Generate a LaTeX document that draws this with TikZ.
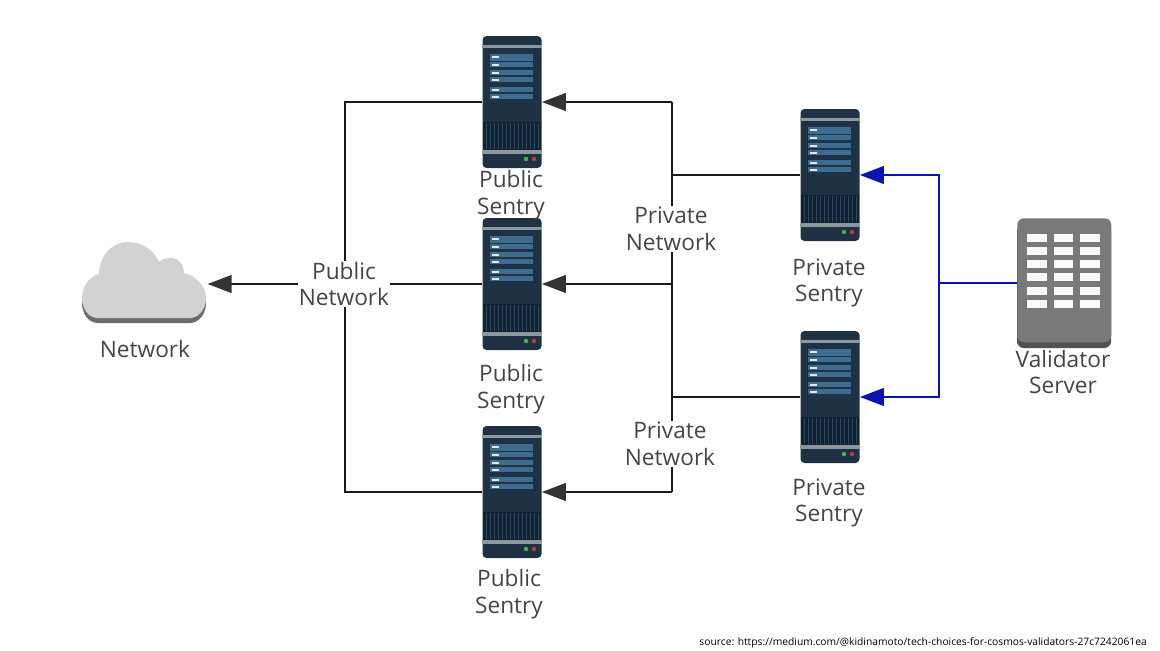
\documentclass[tikz,border=0pt]{standalone}
\usepackage{fontspec}
\setmainfont{Open Sans}
\usepackage{xcolor}
\usetikzlibrary{arrows.meta, positioning, calc}
\definecolor{rackbody}{HTML}{1F3243}
\definecolor{rackband}{HTML}{8C979E}
\definecolor{rackrow}{HTML}{3E6C90}
\definecolor{rackvent}{HTML}{14212C}
\definecolor{linkblue}{HTML}{0A14B4}
\definecolor{tipgray}{HTML}{333333}
\definecolor{labelgray}{HTML}{454545}

\begin{document}
\begin{tikzpicture}[
  x=0.75pt, y=-0.75pt,
  rackbox/.style={draw=none, fill=rackbody, rounded corners=3pt, minimum width=44.25pt, minimum height=99pt, inner sep=0pt},
  serverbox/.style={fill=gray!95!black, rounded corners=5pt, minimum width=70.5pt, minimum height=93pt, inner sep=0pt, anchor=north west},
  hostlabel/.style={align=center, text=labelgray, font=\fontsize{17}{20}\selectfont},
  netlabel/.style={hostlabel, fill=white, inner sep=1pt},
  publink/.style={line width=2.2pt, black!90},
  publinkarrow/.style={publink, -{Triangle[length=18pt, width=13pt, color=tipgray]}},
  vallink/.style={line width=2.2pt, linkblue},
  vallinkarrow/.style={vallink, -{Triangle[length=18pt, width=13pt]}},
  rackfront/.pic={
    \fill[rackband] (-30,-57) rectangle (30,-54);
    \fill[rackband] (-30,48) rectangle (30,52);
    \foreach \a/\b in {-48/-41, -40/-35, -32/-27, -25/-20, -15/-10, -8/-3} {
      \fill[rackrow] (-22,\a) rectangle (21,\b);
      \fill[white!85!rackrow] (-20,\a+1.5) rectangle (-13,\a+4);
    }
    \fill[rackvent] (-29,20) rectangle (29,48);
    \foreach \x in {-26,-22,...,26} {
      \draw[rackrow!70!black, line width=0.6pt] (\x,21) -- (\x,47);
    }
    \fill[green!45!gray] (14,57) circle (2.2);
    \fill[red!55!gray] (22,57) circle (2.2);
  },
]
  \useasboundingbox (0,0) rectangle (1160,650);

  % racks
  \foreach \n/\x/\y in {pub1/512/102, pub2/512/284, pub3/512/492, priv1/830/175, priv2/830/397} {
    \node[rackbox] (\n) at (\x,\y) {};
    \pic at (\n) {rackfront};
  }

  % validator
  \fill[black!68, rounded corners=5pt] (1017,225) rectangle (1111,348);
  \node[serverbox] (val) at (1017,218) {};
  \foreach \x/\w in {1027/1047, 1054/1073, 1080/1100} {
    \foreach \a/\b in {234/242, 247/255, 260/268, 273/281, 287/295, 300/308} {
      \fill[white!95!gray] (\x,\a) rectangle (\w,\b);
    }
  }

  % cloud
  \node[minimum width=93.75pt, minimum height=61.5pt, inner sep=0pt, anchor=north west] (cloud) at (82,241) {};
  \foreach \s/\c in {5/gray!85!black, 0/gray!35} {
    \fill[\c, yshift=-0.75*\s pt] (98,318) .. controls (88,318) and (82,308) .. (82,298)
      .. controls (82,286) and (90,276) .. (99,274)
      .. controls (99,256) and (112,242) .. (128,242)
      .. controls (142,242) and (154,250) .. (159,262)
      .. controls (163,258) and (168,258) .. (172,258)
      .. controls (178,258) and (184,265) .. (184,273)
      .. controls (196,276) and (206,286) .. (206,298)
      .. controls (206,310) and (198,318) .. (190,318) -- cycle;
  }

  % links
  \coordinate (pubbus) at (345,284);
  \coordinate (privbus) at (672,284);
  \coordinate (valbus) at (939,283);
  \draw[publink] (pub1.west) -| (pubbus) |- (pub3.west);
  \draw[publinkarrow] (pub2.west) -- (cloud.east |- pub2.west);
  \draw[publink] (priv1.west) -- (priv1.west -| privbus);
  \draw[publink] (priv2.west) -- (priv2.west -| privbus);
  \draw[publinkarrow] (privbus |- pub1.east) -- (pub1.east);
  \draw[publinkarrow] (privbus) -- (pub2.east);
  \draw[publinkarrow] (privbus |- pub3.east) -- (pub3.east);
  \draw[publink] (privbus |- pub1.east) -- (privbus |- pub3.east);
  \draw[vallink] (val.west |- valbus) -- (valbus);
  \draw[vallinkarrow] (valbus) |- (priv1.east);
  \draw[vallinkarrow] (valbus) |- (priv2.east);

  % labels
  \node[netlabel] (pubnet) at (344,284) {Public\\Network};
  \node[netlabel] (privnet1) at (671,229) {Private\\Network};
  \node[netlabel] (privnet2) at (670,444) {Private\\Network};
  \node[hostlabel] (pub1text) at (511,195) {Public\\Sentry};
  \node[hostlabel] (pub2text) at (511,389) {Public\\Sentry};
  \node[hostlabel] (pub3text) at (509,594) {Public\\Sentry};
  \node[hostlabel] (priv1text) at (829,283) {Private\\Sentry};
  \node[hostlabel] (priv2text) at (829,503) {Private\\Sentry};
  \node[hostlabel] (valtext) at (1063,372) {Validator\\Server};
  \node[hostlabel] (cloudtext) at (145,349) {Network};
  \node[anchor=east, inner sep=0pt, font=\fontsize{7.7}{10}\selectfont] (source) at (1147,643) {source: https://medium.com/@kidinamoto/tech-choices-for-cosmos-validators-27c7242061ea};
\end{tikzpicture}
\end{document}
